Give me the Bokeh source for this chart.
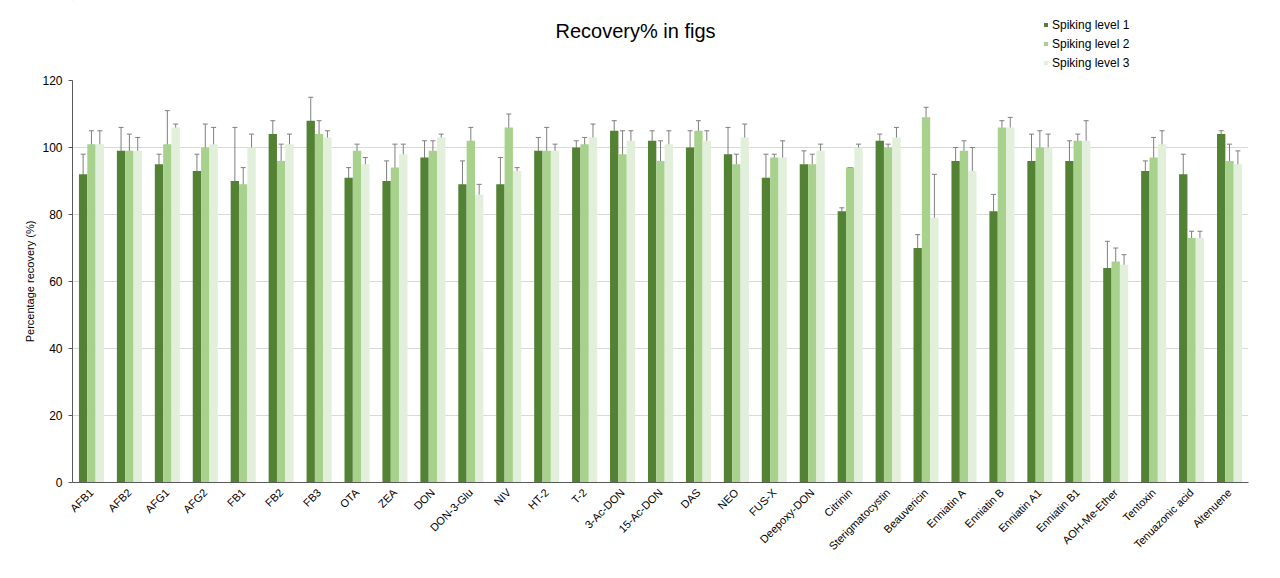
import math
from bokeh.plotting import figure
from bokeh.layouts import column
from bokeh.models import (FactorRange, ColumnDataSource, Whisker, TeeHead, Legend, LegendItem, Label, Range1d)
from bokeh.transform import dodge
from bokeh.embed import file_html
from bokeh.resources import INLINE

categories = ["AFB1", "AFB2", "AFG1", "AFG2", "FB1", "FB2", "FB3", "OTA", "ZEA", "DON",
              "DON-3-Glu", "NIV", "HT-2", "T-2", "3-Ac-DON", "15-Ac-DON", "DAS", "NEO", "FUS-X",
              "Deepoxy-DON", "Citrinin", "Sterigmatocystin", "Beauvericin", "Enniatin A",
              "Enniatin B", "Enniatin A1", "Enniatin B1", "AOH-Me-Ether", "Tentoxin",
              "Tenuazonic acid", "Altenuene"]

level1 = [92, 99, 95, 93, 90, 104, 108, 91, 90, 97, 89, 89, 99, 100, 105, 102, 100, 98, 91,
          95, 81, 102, 70, 96, 81, 96, 96, 64, 93, 92, 104]
level1_err = [6, 7, 3, 5, 16, 4, 7, 3, 6, 5, 7, 8, 4, 2, 3, 3, 5, 8, 7,
              4, 1, 2, 4, 4, 5, 8, 6, 8, 3, 6, 1]
level2 = [101, 99, 101, 100, 89, 96, 104, 99, 94, 99, 102, 106, 99, 101, 98, 96, 105, 95, 97,
          95, 94, 100, 109, 99, 106, 100, 102, 66, 97, 73, 96]
level2_err = [4, 5, 10, 7, 5, 5, 4, 2, 7, 3, 4, 4, 7, 2, 7, 6, 3, 3, 1,
              3, 0, 1, 3, 3, 2, 5, 2, 4, 6, 2, 5]
level3 = [101, 99, 106, 101, 100, 101, 103, 95, 98, 103, 86, 93, 99, 103, 102, 101, 102, 103, 97,
          99, 100, 103, 79, 93, 106, 100, 102, 65, 101, 73, 95]
level3_err = [4, 4, 1, 5, 4, 3, 2, 2, 3, 1, 3, 1, 2, 4, 3, 4, 3, 4, 5,
              2, 1, 3, 13, 7, 3, 4, 6, 3, 4, 2, 4]

series_names = ["Spiking level 1", "Spiking level 2", "Spiking level 3"]
colors = ["#548235", "#A9D18E", "#E2EFDA"]
FONT = "Liberation Sans"
W = 1272
HEAD_H = 73
LEFT = 72
RIGHT = 24

# ---------- header: title + legend (frame aligned with main chart frame) ----------
head = figure(width=W, height=HEAD_H, x_range=Range1d(LEFT, W - RIGHT), y_range=Range1d(HEAD_H, 0),
              x_axis_type=None, y_axis_type=None, output_backend="svg", toolbar_location=None,
              min_border_left=LEFT, min_border_right=RIGHT, min_border_top=0, min_border_bottom=0)
head.outline_line_color = None
head.xgrid.visible = False
head.ygrid.visible = False

dummy = []
for col in colors:
    # zero-size placeholder renderers, used only to give the legend its swatches
    dummy.append(head.vbar(x=[-5000], top=[-5000], bottom=[-5000], width=0,
                           fill_color=col, line_color=None))

legend = Legend(items=[LegendItem(label=n, renderers=[r]) for n, r in zip(series_names, dummy)],
                location=(1043 - LEFT, 1), orientation="vertical",
                glyph_width=5, glyph_height=5, label_height=19, label_standoff=4,
                spacing=0, padding=0, margin=0, border_line_color=None,
                background_fill_alpha=0, label_text_font=FONT,
                label_text_font_size="12px", label_text_color="#000000",
                label_text_baseline="middle")
head.add_layout(legend, "center")

title = Label(x=635, y=30, text="Recovery% in figs",
              text_font=FONT, text_font_size="20px", text_color="#000000",
              text_align="center", text_baseline="middle")
head.add_layout(title)

# ---------- main chart ----------
p = figure(x_range=FactorRange(*categories), y_range=Range1d(0, 120),
           width=W, height=505, output_backend="svg", toolbar_location=None,
           min_border_left=LEFT, min_border_right=RIGHT, min_border_top=7, min_border_bottom=96)
p.outline_line_color = None

bw = 0.22
offsets = [-bw, 0.0, bw]
for vals, errs, off, col in zip([level1, level2, level3], [level1_err, level2_err, level3_err], offsets, colors):
    src = ColumnDataSource(dict(cat=categories, val=vals,
                                up=[v + e for v, e in zip(vals, errs)],
                                lo=[v - e for v, e in zip(vals, errs)]))
    p.vbar(x=dodge("cat", off, range=p.x_range), top="val", width=bw, source=src,
           fill_color=col, line_color=None)
    w = Whisker(base=dodge("cat", off, range=p.x_range), upper="up", lower="lo", source=src,
                line_color="#7f7f7f", line_width=1,
                upper_head=TeeHead(size=5, line_color="#7f7f7f", line_width=1),
                lower_head=TeeHead(size=5, line_color="#7f7f7f", line_width=1))
    p.add_layout(w)

p.yaxis.ticker = [0, 20, 40, 60, 80, 100, 120]
p.yaxis.axis_label = "Percentage recovery (%)"
p.yaxis.axis_label_text_font = FONT
p.yaxis.axis_label_text_font_style = "normal"
p.yaxis.axis_label_text_font_size = "11px"
p.yaxis.axis_label_text_color = "#000000"
p.yaxis.axis_label_standoff = 3
for ax in (p.xaxis[0], p.yaxis[0]):
    ax.major_label_text_font = FONT
    ax.major_label_text_color = "#000000"
    ax.minor_tick_line_color = None
    ax.axis_line_color = "#595959"
p.yaxis.major_label_text_font_size = "12px"
p.xaxis.major_label_text_font_size = "11px"
p.yaxis.major_tick_line_color = "#595959"
p.yaxis.major_tick_out = 4
p.yaxis.major_tick_in = 0
p.yaxis.major_label_standoff = 6
p.xaxis.major_tick_line_color = None
p.xaxis.major_tick_out = 0
p.xaxis.major_label_orientation = math.pi / 4
p.xaxis.major_label_standoff = 8
p.xgrid.grid_line_color = None
p.ygrid.grid_line_color = "#d9d9d9"

open("out.html", "w").write(file_html(column(head, p, spacing=0), INLINE))
